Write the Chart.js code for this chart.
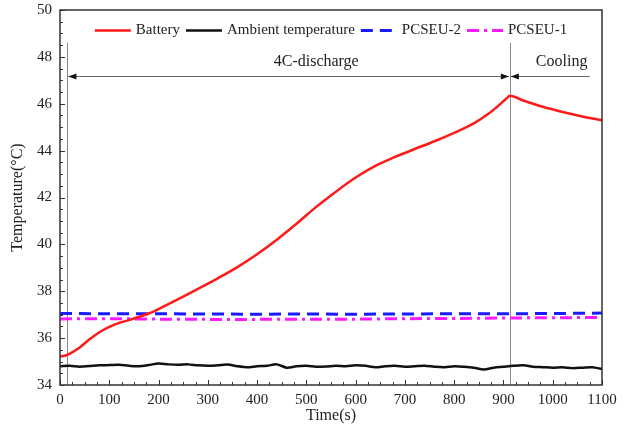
<!DOCTYPE html>
<html><head><meta charset="utf-8">
<script src="https://cdn.jsdelivr.net/npm/chart.js@4.4.0/dist/chart.umd.min.js"></script>
<style>html,body{margin:0;padding:0;background:#fff}</style>
</head><body>
<canvas id="c" width="624" height="432"></canvas>
<script>
// ---------- data ----------
const batteryTime = [0,10,20,40,60,80,100,120,140,160,180,200,240,280,320,360,400,440,480,520,560,600,640,680,720,760,800,840,870,890,905,913,940,980,1020,1060,1100];
const batteryTemp = [35.22,35.25,35.34,35.60,35.95,36.25,36.48,36.65,36.77,36.90,37.05,37.24,37.66,38.10,38.55,39.03,39.58,40.20,40.88,41.60,42.25,42.85,43.35,43.73,44.07,44.40,44.76,45.16,45.58,45.92,46.20,46.34,46.14,45.87,45.65,45.46,45.29];

const ambientTime = [0,20,40,60,80,100,120,140,160,180,200,220,240,260,280,300,320,340,360,380,400,420,440,460,480,500,520,540,560,580,600,620,640,660,680,700,720,740,760,780,800,820,840,860,880,900,920,940,960,980,1000,1020,1040,1060,1080,1100];
const ambientTemp = [34.80,34.82,34.78,34.81,34.84,34.85,34.86,34.82,34.80,34.85,34.92,34.88,34.86,34.88,34.84,34.82,34.84,34.87,34.80,34.76,34.80,34.82,34.88,34.74,34.80,34.82,34.78,34.79,34.82,34.80,34.84,34.82,34.76,34.80,34.82,34.78,34.80,34.82,34.78,34.76,34.80,34.78,34.74,34.66,34.74,34.78,34.82,34.84,34.78,34.76,34.74,34.76,34.72,34.74,34.76,34.68];

const pcseuTime = [0,100,200,300,400,500,600,700,800,900,1000,1100];
const pcseu2Temp = [37.05,37.04,37.04,37.03,37.02,37.03,37.02,37.03,37.04,37.04,37.05,37.07];
const pcseu1Temp = [36.82,36.83,36.81,36.80,36.80,36.81,36.81,36.83,36.84,36.86,36.87,36.88];

const seriesNames = ['Battery','Ambient temperature','PCSEU-2','PCSEU-1'];
const xTicks = [0,100,200,300,400,500,600,700,800,900,1000,1100];
const yTicks = [34,36,38,40,42,44,46,48,50];

// phase annotation (data units)
const phaseBounds = [15, 913];
const coolingEnd = 1075;
const phaseLabels = ['4C-discharge','Cooling'];
const phaseLabelX = [520, 1018];
const arrowLevel = 47.2, bracketTop = 48.6, phaseLabelY = 47.8;

// ---------- helpers ----------
const FONT = '"Liberation Serif","Times New Roman",serif';
const pts = (xs, ys) => xs.map((t,i)=>({x:t, y:ys[i]}));

const decor = {
  id:'decor',
  beforeDatasetsDraw(chart){
    const {ctx, scales:{x,y}, chartArea:a} = chart;
    ctx.save();
    ctx.strokeStyle = '#8a8a8a'; ctx.lineWidth = 1;
    phaseBounds.forEach(t=>{
      const px = Math.round(x.getPixelForValue(t))+0.5;
      ctx.beginPath(); ctx.moveTo(px, y.getPixelForValue(bracketTop)); ctx.lineTo(px, a.bottom); ctx.stroke();
    });
    const ay = Math.round(y.getPixelForValue(arrowLevel))+0.5;
    const x0 = x.getPixelForValue(phaseBounds[0]), x1 = x.getPixelForValue(phaseBounds[1]), x2 = x.getPixelForValue(coolingEnd);
    ctx.strokeStyle = '#666';
    ctx.beginPath(); ctx.moveTo(x0+1, ay); ctx.lineTo(x1-1, ay); ctx.stroke();
    ctx.beginPath(); ctx.moveTo(x1+1, ay); ctx.lineTo(x2, ay); ctx.stroke();
    ctx.fillStyle = '#111';
    const head = (tx, dir) => { ctx.beginPath(); ctx.moveTo(tx, ay); ctx.lineTo(tx - dir*8, ay-3); ctx.lineTo(tx - dir*8, ay+3); ctx.closePath(); ctx.fill(); };
    head(x0+1, -1); head(x1-1, 1); head(x1+1, -1);
    ctx.font = '16px ' + FONT; ctx.fillStyle = '#222'; ctx.textAlign = 'center'; ctx.textBaseline = 'middle';
    phaseLabels.forEach((s,i)=> ctx.fillText(s, x.getPixelForValue(phaseLabelX[i]), y.getPixelForValue(phaseLabelY)));
    ctx.restore();
  },
  afterDatasetsDraw(chart){
    const {ctx, scales:{x,y}, chartArea:a} = chart;
    ctx.save();
    ctx.strokeStyle = '#333'; ctx.lineWidth = 1;
    for (let t = 0; t <= 1100; t += 25) {
      const px = Math.round(x.getPixelForValue(t))+0.5;
      const len = (t % 100 === 0) ? 5 : 3;
      ctx.beginPath(); ctx.moveTo(px, a.bottom); ctx.lineTo(px, a.bottom - len); ctx.stroke();
    }
    for (let v = 34; v <= 50; v += 0.5) {
      const py = Math.round(y.getPixelForValue(v))+0.5;
      const len = (v % 2 === 0) ? 5 : 3;
      ctx.beginPath(); ctx.moveTo(a.left, py); ctx.lineTo(a.left + len, py); ctx.stroke();
    }
    ctx.lineWidth = 1.5; ctx.strokeStyle = '#333';
    ctx.strokeRect(a.left, a.top, a.right - a.left, a.bottom - a.top);

    // legend (inside plot, one row)
    ctx.font = '15px ' + FONT; ctx.textBaseline = 'middle'; ctx.textAlign = 'left';
    const dsets = chart.data.datasets;
    const sw = 36, tg = 5, ig = 6;
    const widths = dsets.map(ds => sw + tg + ctx.measureText(ds.label).width);
    const total = widths.reduce((p,c)=>p+c,0) + ig*(dsets.length-1);
    let cx = (a.left + a.right)/2 - total/2;
    const ly = a.top + 20.5;
    dsets.forEach((ds,i)=>{
      ctx.save();
      ctx.strokeStyle = ds.borderColor; ctx.lineWidth = ds.borderWidth;
      ctx.setLineDash(ds.borderDash || []);
      ctx.beginPath(); ctx.moveTo(cx, ly); ctx.lineTo(cx+sw, ly); ctx.stroke();
      ctx.restore();
      ctx.fillStyle = '#222';
      ctx.fillText(ds.label, cx + sw + tg, ly);
      cx += widths[i] + ig;
    });
    ctx.restore();
  }
};

new Chart(document.getElementById('c'), {
  type:'line',
  data:{ datasets:[
    {label:seriesNames[0], data:pts(batteryTime,batteryTemp), borderColor:'#ff1a1a', backgroundColor:'#ff1a1a', borderWidth:2.5, pointRadius:0, cubicInterpolationMode:'monotone', order:1},
    {label:seriesNames[1], data:pts(ambientTime,ambientTemp), borderColor:'#111', backgroundColor:'#111', borderWidth:2.5, pointRadius:0, tension:0.3, order:2},
    {label:seriesNames[2], data:pts(pcseuTime,pcseu2Temp), borderColor:'#1a1aff', backgroundColor:'#1a1aff', borderWidth:3, borderDash:[12,7], pointRadius:0, order:3},
    {label:seriesNames[3], data:pts(pcseuTime,pcseu1Temp), borderColor:'#ff1aff', backgroundColor:'#ff1aff', borderWidth:3, borderDash:[12,5,3,5], pointRadius:0, order:4}
  ]},
  options:{
    responsive:false, animation:false, devicePixelRatio:1,
    layout:{padding:{top:10,right:22,left:0,bottom:0}},
    plugins:{ legend:{display:false}, tooltip:{enabled:false} },
    scales:{
      x:{type:'linear', min:0, max:1100,
        afterBuildTicks:(s)=>{ s.ticks = xTicks.map(v=>({value:v})); },
        afterFit:(s)=>{ s.height = 47; s.paddingLeft = 0; s.paddingRight = 0; },
        grid:{display:false, drawTicks:false}, border:{display:false},
        ticks:{font:{family:FONT,size:15}, color:'#222', padding:6, maxRotation:0, autoSkip:false, callback:(v)=>String(v)},
        title:{display:true, text:'Time(s)', font:{family:FONT,size:16}, color:'#222', padding:{top:0,bottom:7}}
      },
      y:{type:'linear', min:34, max:50,
        afterBuildTicks:(s)=>{ s.ticks = yTicks.map(v=>({value:v})); },
        afterFit:(s)=>{ s.width = 60; s.paddingTop = 0; s.paddingBottom = 0; },
        grid:{display:false, drawTicks:false}, border:{display:false},
        ticks:{font:{family:FONT,size:15}, color:'#222', padding:8, callback:(v)=>String(v)},
        title:{display:true, text:'Temperature(°C)', font:{family:FONT,size:16}, color:'#222', padding:{top:8,bottom:0}}
      }
    }
  },
  plugins:[decor]
});
</script>
</body></html>
